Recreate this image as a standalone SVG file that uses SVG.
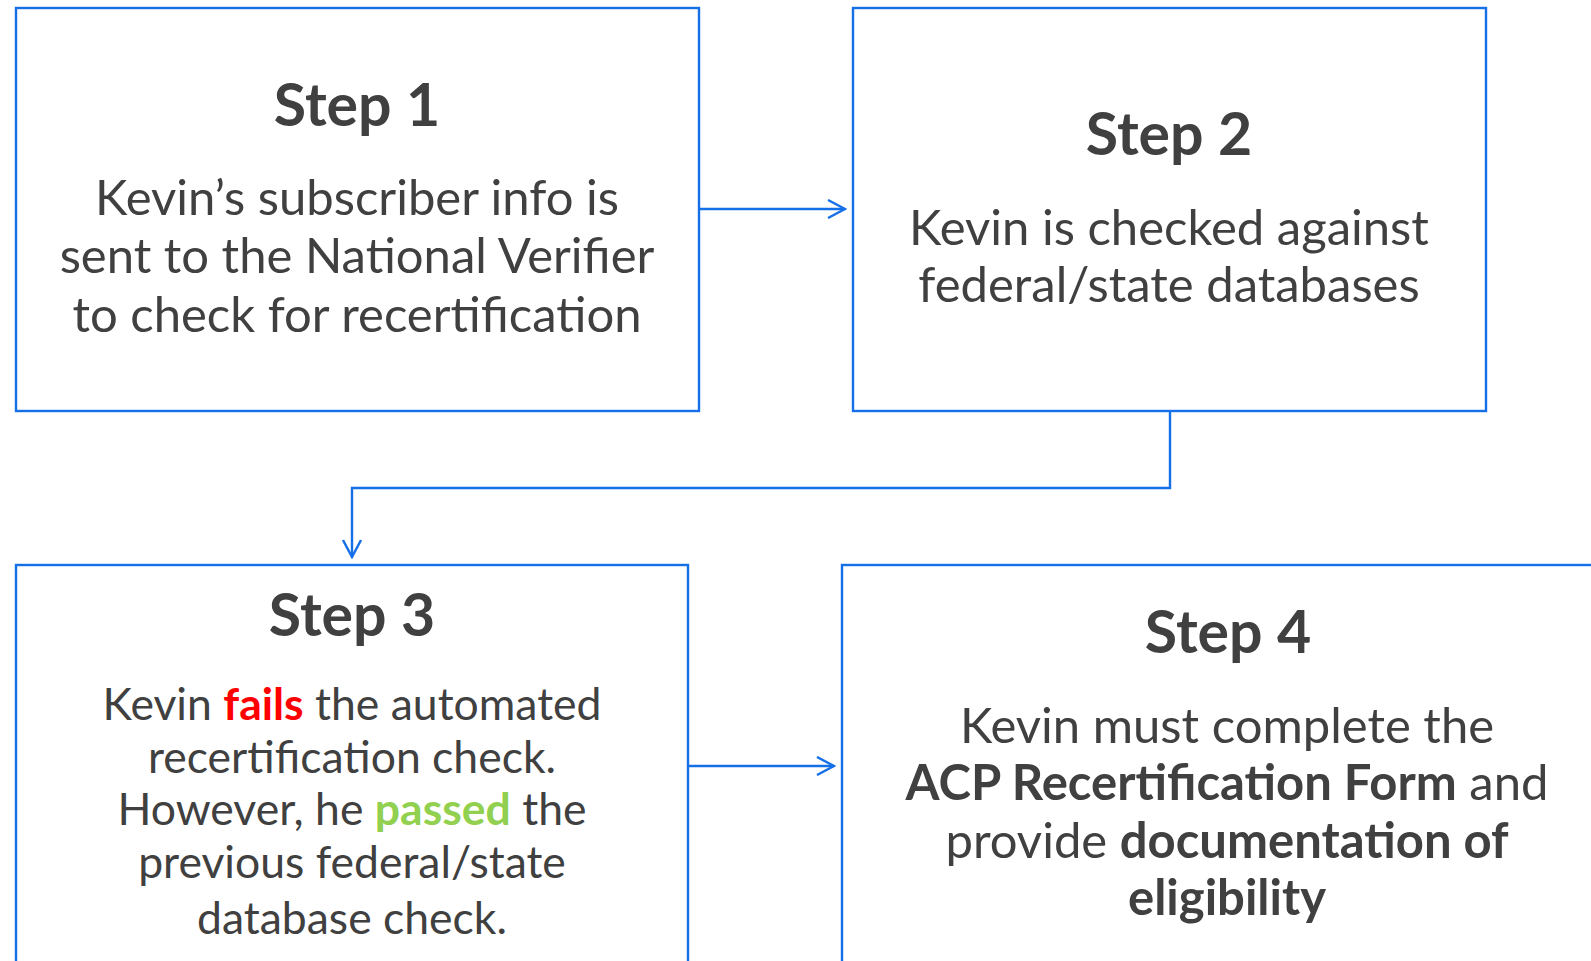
<svg xmlns="http://www.w3.org/2000/svg" width="1591" height="961" viewBox="0 0 1591 961">
<style>
.box{fill:#fff;stroke:#1570E8;stroke-width:2.4}
.con{fill:none;stroke:#1570E8;stroke-width:2.4}
.t{font-family:Lato,"Open Sans","Liberation Sans",sans-serif;fill:#404040;text-anchor:middle}
.h{font-size:59px;font-weight:bold}
.b{font-size:49px}
.b3{font-size:44.5px}
.bold{font-weight:bold}
.red{fill:#FF0000;font-weight:bold}
.grn{fill:#92D050;font-weight:bold}
</style>
<defs>
<marker id="arr" markerUnits="userSpaceOnUse" viewBox="0 0 20 20" refX="18" refY="10" markerWidth="20" markerHeight="20" orient="auto">
<path d="M1,1 L18,10 L1,19" fill="none" stroke="#1570E8" stroke-width="2.4"/>
</marker>
</defs>
<rect width="1591" height="961" fill="#fff"/>
<g id="connectors">
<path class="con" d="M699,209 H845" marker-end="url(#arr)"/>
<path class="con" d="M1170,411 V488 H352 V557" marker-end="url(#arr)"/>
<path class="con" d="M688,766 H834" marker-end="url(#arr)"/>
</g>
<g id="step1">
<rect class="box" x="16" y="8" width="683" height="403"/>
<text class="t h" x="357" y="126">Step 1</text>
<text class="t b" x="357" y="215">Kevin’s subscriber info is</text>
<text class="t b" x="357" y="273">sent to the National Verifier</text>
<text class="t b" x="357" y="332">to check for recertification</text>
</g>
<g id="step2">
<rect class="box" x="853" y="8" width="633" height="403"/>
<text class="t h" x="1169" y="155">Step 2</text>
<text class="t b" x="1169" y="245">Kevin is checked against</text>
<text class="t b" x="1169" y="302">federal/state databases</text>
</g>
<g id="step3">
<rect class="box" x="16" y="565" width="672" height="430"/>
<text class="t h" x="352" y="636">Step 3</text>
<text class="t b3" x="352" y="720">Kevin <tspan class="red">fails</tspan> the automated</text>
<text class="t b3" x="352" y="773">recertification check.</text>
<text class="t b3" x="352" y="825">However, he <tspan class="grn">passed</tspan> the</text>
<text class="t b3" x="352" y="878">previous federal/state</text>
<text class="t b3" x="352" y="934">database check.</text>
</g>
<g id="step4">
<rect class="box" x="842" y="565" width="770" height="430"/>
<text class="t h" x="1228" y="653">Step 4</text>
<text class="t b" x="1227" y="743">Kevin must complete the</text>
<text class="t b" x="1227" y="800"><tspan class="bold">ACP Recertification Form</tspan> and</text>
<text class="t b" x="1227" y="858">provide <tspan class="bold">documentation of</tspan></text>
<text class="t b" x="1227" y="915"><tspan class="bold">eligibility</tspan></text>
</g>
</svg>
